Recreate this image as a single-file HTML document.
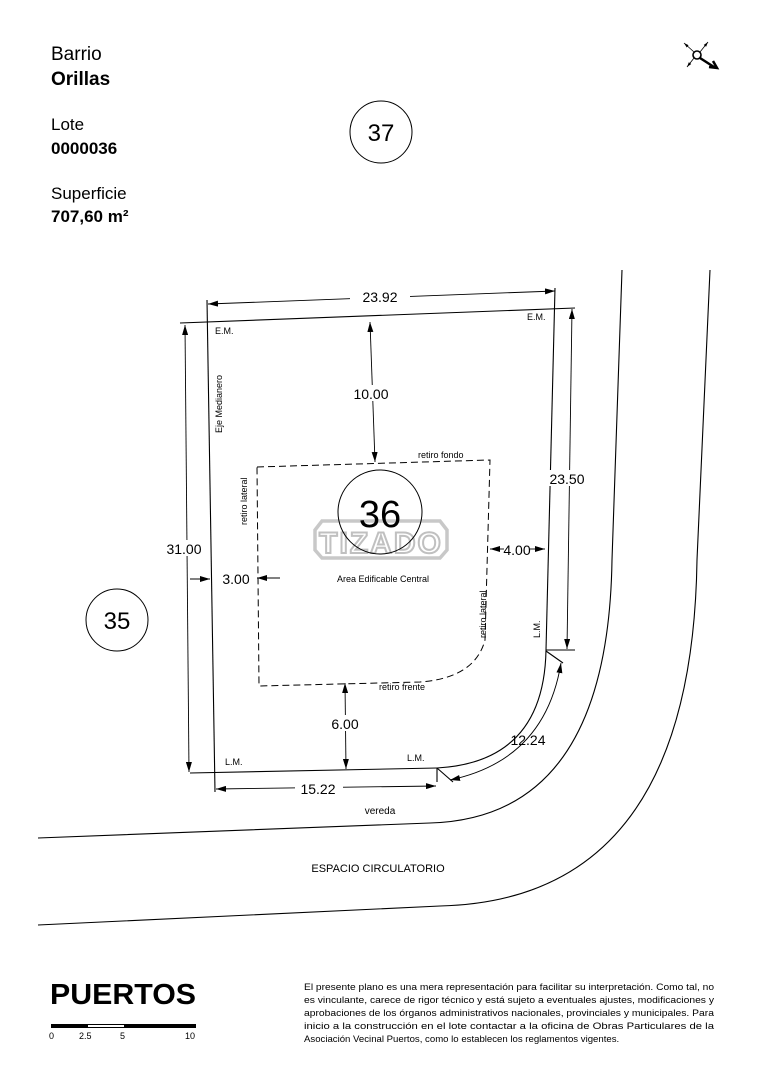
<!DOCTYPE html>
<html><head><meta charset="utf-8"><style>
html,body{margin:0;padding:0;background:#fff;}
svg{display:block;font-family:"Liberation Sans",Arial,sans-serif;}
</style></head><body>
<svg width="763" height="1080" viewBox="0 0 763 1080" xmlns="http://www.w3.org/2000/svg">
<defs>
<marker id="a" viewBox="0 0 10 6" refX="10" refY="3" markerWidth="10" markerHeight="6" markerUnits="userSpaceOnUse" orient="auto-start-reverse"><path d="M0,0 L10,3 L0,6 z" fill="#000"/></marker>
<marker id="s" viewBox="0 0 10 6" refX="10" refY="3" markerWidth="5" markerHeight="4" markerUnits="userSpaceOnUse" orient="auto"><path d="M0,0 L10,3 L0,6 z" fill="#000"/></marker>
</defs>
<text x="51" y="60" font-size="19">Barrio</text>
<text x="51" y="85" font-size="19" font-weight="bold">Orillas</text>
<text x="51" y="130" font-size="17">Lote</text>
<text x="51" y="154" font-size="17" font-weight="bold">0000036</text>
<text x="51" y="199" font-size="17">Superficie</text>
<text x="51" y="222" font-size="17" font-weight="bold">707,60 m²</text>
<g stroke="#000" fill="none">
<circle cx="697" cy="55" r="4" stroke-width="1.6"/>
<line x1="694" y1="52" x2="684" y2="43" marker-end="url(#s)" stroke-width="0.8"/>
<line x1="700" y1="52" x2="708" y2="42" marker-end="url(#s)" stroke-width="0.8"/>
<line x1="694" y1="58" x2="687" y2="67" marker-end="url(#s)" stroke-width="0.8"/>
<line x1="700" y1="58" x2="714" y2="67" stroke-width="2.5"/>
<path d="M709,67 L717,68 L713,61" stroke-width="2.5"/>
</g>
<g fill="none" stroke="#000" stroke-width="1">
<circle cx="381" cy="132" r="31"/>
<circle cx="117" cy="620" r="31"/>
</g>
<text x="381" y="141" font-size="24" text-anchor="middle">37</text>
<text x="117" y="629" font-size="24" text-anchor="middle">35</text>
<g fill="none" stroke="#c8c8c8" stroke-width="3.5">
<path d="M322,521 L440,521 L447,530 L447,550 L440,558 L322,558 L315,550 L315,530 z"/>
</g>
<text x="381" y="553" font-size="30" font-weight="bold" text-anchor="middle" fill="none" stroke="#c0c0c0" stroke-width="2" letter-spacing="2">TIZADO</text>
<circle cx="380" cy="512" r="42" fill="none" stroke="#000" stroke-width="1"/>
<text x="380" y="527" font-size="38" text-anchor="middle">36</text>
<g fill="none" stroke="#000" stroke-width="1.1">
<path d="M622,270 L612,560 Q608,818 430,823 L38,838"/>
<path d="M710,270 L697,560 Q692,900 440,906 L38,925"/>
</g>
<g fill="none" stroke="#000" stroke-width="1.1">
<line x1="207" y1="300" x2="215" y2="792"/>
<line x1="180" y1="323" x2="575" y2="308"/>
<line x1="555" y1="288" x2="546" y2="650"/>
<path d="M546,650 Q544,762 437,768"/>
<line x1="190" y1="773" x2="437" y2="768"/>
<line x1="546" y1="650" x2="575" y2="650"/>
<path d="M546,651 L563,663"/>
<path d="M437,768 L437,782 M437,768 L453,782"/>
</g>
<g stroke="#000" stroke-width="0.9" fill="none">
<line x1="208" y1="304" x2="555" y2="291" marker-start="url(#a)" marker-end="url(#a)"/>
<line x1="185" y1="325" x2="189" y2="772" marker-start="url(#a)" marker-end="url(#a)"/>
<line x1="572" y1="309" x2="567" y2="649" marker-start="url(#a)" marker-end="url(#a)"/>
<line x1="216" y1="789" x2="436" y2="786" marker-start="url(#a)" marker-end="url(#a)"/>
<path d="M450,780 Q545,760 561,663" marker-start="url(#a)" marker-end="url(#a)"/>
<line x1="370" y1="322" x2="375" y2="462" marker-start="url(#a)" marker-end="url(#a)"/>
<line x1="345" y1="683" x2="346" y2="769" marker-start="url(#a)" marker-end="url(#a)"/>
<line x1="190" y1="579" x2="210" y2="579" marker-end="url(#a)"/>
<line x1="280" y1="578" x2="257" y2="578" marker-end="url(#a)"/>
<line x1="504" y1="549" x2="490" y2="549" marker-end="url(#a)"/>
<line x1="530" y1="549" x2="545" y2="549" marker-end="url(#a)"/>
</g>
<path d="M257,467 L490,460 L485,640 Q475,678 420,682 L259,686 Z" fill="none" stroke="#000" stroke-width="1" stroke-dasharray="7,4"/>
<g font-size="14" text-anchor="middle">
<rect x="350" y="288" width="60" height="16" fill="#fff"/>
<text x="380" y="302">23.92</text>
<rect x="160" y="540" width="48" height="16" fill="#fff"/>
<text x="184" y="554">31.00</text>
<rect x="548" y="470" width="38" height="16" fill="#fff"/>
<text x="567" y="484">23.50</text>
<rect x="295" y="781" width="48" height="16" fill="#fff"/>
<text x="318" y="794">15.22</text>
<text x="528" y="745">12.24</text>
<rect x="353" y="385" width="40" height="16" fill="#fff"/>
<text x="371" y="399">10.00</text>
<rect x="328" y="715" width="38" height="16" fill="#fff"/>
<text x="345" y="729">6.00</text>
<text x="236" y="584">3.00</text>
<text x="517" y="555">4.00</text>
</g>
<g font-size="9">
<text x="215" y="334">E.M.</text>
<text x="527" y="320">E.M.</text>
<text x="225" y="765">L.M.</text>
<text x="407" y="761">L.M.</text>
<text x="0" y="0" transform="translate(540,638) rotate(-90)">L.M.</text>
<text x="0" y="0" transform="translate(222,433) rotate(-90)">Eje Medianero</text>
<text x="0" y="0" transform="translate(247,525) rotate(-90)">retiro lateral</text>
<text x="0" y="0" transform="translate(486,638) rotate(-90)">retiro lateral</text>
<text x="418" y="458">retiro fondo</text>
<text x="379" y="690">retiro frente</text>
<text x="337" y="582">Area Edificable Central</text>
</g>
<text x="380" y="814" font-size="10" text-anchor="middle">vereda</text>
<text x="378" y="872" font-size="11" text-anchor="middle">ESPACIO CIRCULATORIO</text>
<text x="50" y="1004" font-size="29" font-weight="bold" textLength="146" lengthAdjust="spacingAndGlyphs">PUERTOS</text>
<rect x="51" y="1024" width="145" height="4" fill="#000"/>
<rect x="88" y="1025" width="36" height="2" fill="#fff"/>
<g font-size="9"><text x="49" y="1039">0</text><text x="79" y="1039">2.5</text><text x="120" y="1039">5</text><text x="185" y="1039">10</text></g>
<g font-size="9.6">
<text x="304" y="990" textLength="410" lengthAdjust="spacingAndGlyphs">El presente plano es una mera representación para facilitar su interpretación. Como tal, no</text>
<text x="304" y="1003" textLength="410" lengthAdjust="spacingAndGlyphs">es vinculante, carece de rigor técnico y está sujeto a eventuales ajustes, modificaciones y</text>
<text x="304" y="1016" textLength="410" lengthAdjust="spacingAndGlyphs">aprobaciones de los órganos administrativos nacionales, provinciales y municipales. Para</text>
<text x="304" y="1029" textLength="410" lengthAdjust="spacingAndGlyphs">inicio a la construcción en el lote contactar a la oficina de Obras Particulares de la</text>
<text x="304" y="1042">Asociación Vecinal Puertos, como lo establecen los reglamentos vigentes.</text>
</g>
</svg>
</body></html>
